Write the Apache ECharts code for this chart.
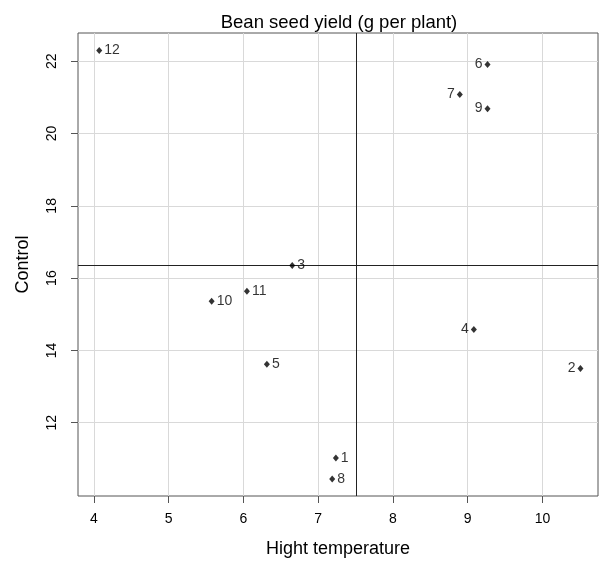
<!DOCTYPE html>
<html>
<head>
<meta charset="utf-8">
<script src="https://cdn.jsdelivr.net/npm/echarts@6/dist/echarts.min.js"></script>
<style>
html,body{margin:0;padding:0;background:#fff;}
#chart{width:600px;height:563px;}
</style>
</head>
<body>
<div id="chart"></div>
<script>
// Data
const categories = ['1','2','3','4','5','6','7','8','9','10','11','12'];
const highTemp = [7.236, 10.508, 6.652, 9.082, 6.313, 9.265, 8.894, 7.187, 9.265, 5.574, 6.046, 4.07];
const control  = [11.02, 13.50, 16.35, 14.58, 13.62, 21.91, 21.08, 10.44, 20.69, 15.36, 15.64, 22.30];
const xTicks = [4, 5, 6, 7, 8, 9, 10];
const yTicks = [12, 14, 16, 18, 20, 22];
const leftLabeled = ['2', '4', '6', '7', '9'];

const meanX = highTemp.reduce((a, b) => a + b, 0) / highTemp.length;
const meanY = control.reduce((a, b) => a + b, 0) / control.length;

const FONT = '"Liberation Sans", Arial, Helvetica, sans-serif';
const chart = echarts.init(document.getElementById('chart'));

const option = {
  animation: false,
  backgroundColor: '#fff',
  textStyle: { fontFamily: FONT },
  title: {
    text: 'Bean seed yield (g per plant)',
    left: 334, top: 8, textAlign: 'center',
    textStyle: { fontSize: 18.5, fontWeight: 'normal', color: '#000', fontFamily: FONT }
  },
  grid: {
    left: 78, right: 2, top: 33, bottom: 65,
    show: true, borderColor: '#555', borderWidth: 1, backgroundColor: 'transparent'
  },
  xAxis: {
    type: 'value', min: 3.786, max: 10.743,
    axisLine: { show: false },
    splitLine: { show: false },
    axisTick: { show: true, length: 7, lineStyle: { color: '#555' }, customValues: xTicks },
    axisLabel: { customValues: xTicks, fontSize: 14, color: '#000', margin: 16, fontFamily: FONT },
    name: 'Hight temperature', nameLocation: 'middle', nameGap: 44,
    nameTextStyle: { fontSize: 18, color: '#000', fontFamily: FONT }
  },
  yAxis: {
    type: 'value', min: 9.971, max: 22.783,
    axisLine: { show: false },
    splitLine: { show: false },
    axisTick: { show: true, length: 7, lineStyle: { color: '#555' }, customValues: yTicks },
    axisLabel: { customValues: yTicks, fontSize: 14, color: '#000', margin: 19, rotate: 90, fontFamily: FONT },
    name: 'Control', nameLocation: 'middle', nameGap: 46, nameRotate: 90,
    nameTextStyle: { fontSize: 18, color: '#000', fontFamily: FONT }
  },
  series: [
    {
      type: 'scatter', data: [], z: 1, silent: true,
      markLine: {
        silent: true, symbol: 'none', label: { show: false },
        lineStyle: { color: '#d9d9d9', width: 1, type: 'solid' },
        data: [...xTicks.map(v => ({ xAxis: v })), ...yTicks.map(v => ({ yAxis: v }))]
      }
    },
    {
      type: 'scatter', data: [], z: 2, silent: true,
      markLine: {
        silent: true, symbol: 'none', label: { show: false },
        lineStyle: { color: '#222', width: 1, type: 'solid' },
        data: [{ xAxis: meanX }, { yAxis: meanY }]
      }
    },
    {
      type: 'scatter', z: 5,
      symbol: 'diamond', symbolSize: [6, 7],
      itemStyle: { color: '#000' },
      label: { show: true, formatter: '{b}', fontSize: 14, color: '#000', distance: 2, fontFamily: FONT },
      data: categories.map((c, i) => ({
        name: c,
        value: [highTemp[i], control[i]],
        label: { position: leftLabeled.includes(c) ? 'left' : 'right' }
      }))
    }
  ]
};
chart.setOption(option);
</script>
</body>
</html>
